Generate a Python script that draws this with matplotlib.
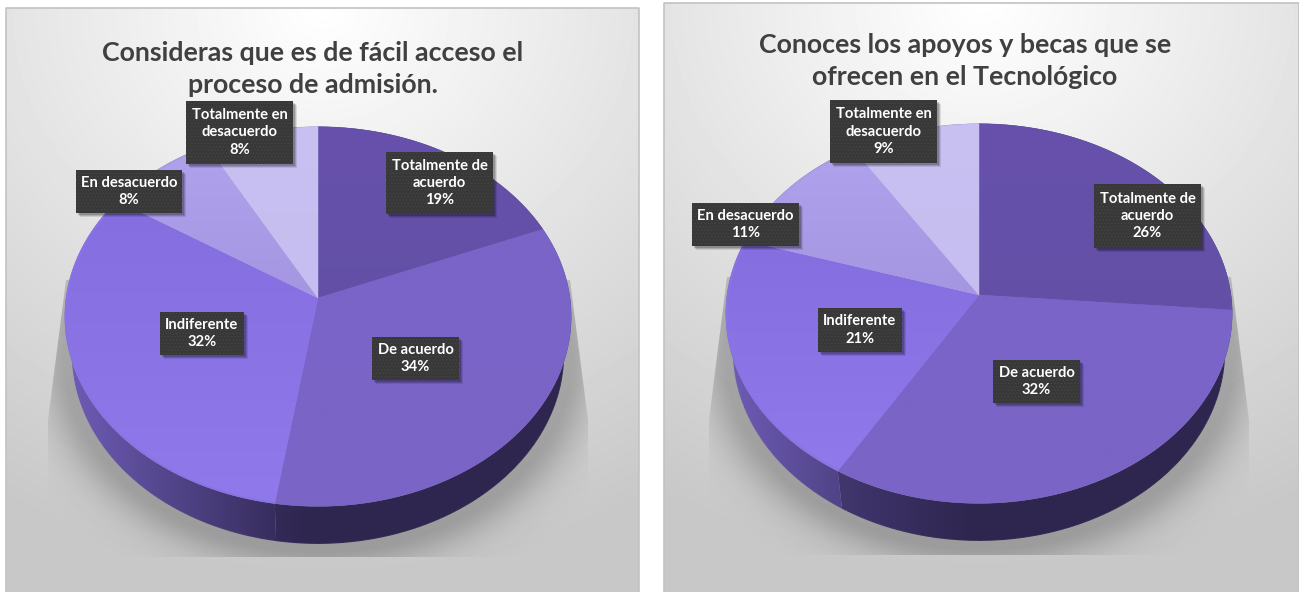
import numpy as np
import matplotlib
matplotlib.use("Agg")
import matplotlib.pyplot as plt
from matplotlib.collections import LineCollection
from matplotlib.colors import to_rgb
from matplotlib.patches import Polygon, Rectangle

plt.rcParams['font.family'] = ['Lato', 'DejaVu Sans']
plt.rcParams['hatch.linewidth'] = 0.5

categories = ["Totalmente de\nacuerdo", "De acuerdo", "Indiferente", "En desacuerdo", "Totalmente en\ndesacuerdo"]
values_admision = [19, 34, 32, 8, 8]
values_becas = [26, 32, 21, 11, 9]
title_admision = "Consideras que es de fácil acceso el\nproceso de admisión."
title_becas = "Conoces los apoyos y becas que se\nofrecen en el Tecnológico"

# colour of each slice at its upper and lower end
slice_upper = ["#6751ac", "#7a64c8", "#846ee0", "#b0a2ec", "#c9c1f2"]
slice_lower = ["#6350a6", "#7a64c6", "#9079ea", "#a596e2", "#c6bdf0"]
wall_light = "#6e5cb6"
wall_dark = "#2f2650"

# layout in pixels
SX, SY, K = 252, 188, 0.0976
DEPTH = 37

boxes_admision = [(386, 152, 493, 214), (372, 337, 459, 380), (160, 312, 244, 355),
                  (76, 170, 182, 213), (186, 101, 293, 164)]
boxes_becas = [(1094, 184, 1201, 248), (993, 360, 1080, 403), (818, 308, 902, 352),
               (692, 203, 799, 246), (830, 100, 937, 163)]


def rim(cx, cy, theta, scale=1.0, drop=0):
    # circle seen in perspective, theta runs clockwise from twelve o'clock
    s, c = np.sin(theta), np.cos(theta)
    w = 1 + K * c
    return cx + scale * SX * s / w, cy - SY * c / w + drop


def mix(a, b, t):
    a, b = np.array(to_rgb(a)), np.array(to_rgb(b))
    return a + (b - a) * np.asarray(t)[..., None]


def wall_color(x, cx, front):
    col = mix(wall_light, wall_dark, np.clip((x - (cx - 250)) / 240, 0, 1))
    if front:
        col = col + (np.array(to_rgb(wall_dark)) - col) * 0.45
    return col


def draw_panel(ax, x0, y0, x1, y1):
    yy, xx = np.mgrid[y0:y1, x0:x1]
    mx = (x0 + x1) / 2
    r = np.sqrt(((xx - mx) / (x1 - x0)) ** 2 + ((yy - y0) / 560) ** 2)
    v = 1 - 0.215 * np.clip(r, 0, 1)
    ax.imshow(v, cmap="gray", vmin=0, vmax=1, extent=(x0, x1, y1, y0), zorder=1, aspect="auto")
    ax.plot([x0, x0, x1, x1], [y1, y0, y0, y1], color="#c2c2c2", lw=1.2, zorder=2)


def draw_shadow(ax, cx, cy, x0, x1, y0, y1):
    yy, xx = np.mgrid[y0:y1, x0:x1]
    rho = np.sqrt(((xx - cx) / SX) ** 2 + ((yy - (cy + 19 + DEPTH)) / (SY + 8)) ** 2)
    d = np.clip(rho - 1, 0, None) * 230
    rgba = np.zeros(xx.shape + (4,))
    rgba[..., 3] = 0.23 * np.exp(-(d / 28) ** 1.6)
    im = ax.imshow(rgba, extent=(x0, x1, y1, y0), zorder=3, aspect="auto")
    outline = Polygon([(cx - 252, cy - 18), (cx + 252, cy - 18), (cx + 270, 420), (cx + 270, y1),
                       (cx - 270, y1), (cx - 270, 420)], transform=ax.transData)
    im.set_clip_path(outline)


def draw_pie(ax, cx, cy, values, boxes):
    edges = np.cumsum([0] + values) / sum(values) * 2 * np.pi
    # side wall: shaded by x and clipped to each slice's outline
    for i in range(len(values)):
        th = np.linspace(edges[i], edges[i + 1], 300)
        tx, ty = rim(cx, cy, th)
        bx, by = rim(cx, cy, th, 0.97, DEPTH)
        if by.max() < ty.min():
            continue
        xs = np.arange(int(min(tx.min(), bx.min())) - 2, int(max(tx.max(), bx.max())) + 3)
        im = ax.imshow(wall_color(xs + 0.5, cx, i < 2)[None, :, :], zorder=4, aspect="auto",
                       extent=(xs[0], xs[-1] + 1, by.max() + 2, min(ty.min(), by.min()) - 2))
        outline = Polygon(list(zip(tx, ty)) + list(zip(bx[::-1], by[::-1])), transform=ax.transData)
        im.set_clip_path(outline)
        # smooth lower edge of the wall
        segs = np.stack([np.c_[bx[:-1], by[:-1]], np.c_[bx[1:], by[1:]]], axis=1)
        ax.add_collection(LineCollection(segs, colors=wall_color(bx[:-1], cx, i < 2), linewidths=0.8, zorder=4))
    # top face
    for i in range(len(values)):
        th = np.linspace(edges[i], edges[i + 1], 200)
        x, y = rim(cx, cy, th)
        mid = mix(slice_upper[i], slice_lower[i], 0.5)
        pts = [(cx, cy)] + list(zip(x, y))
        ax.add_patch(Polygon(pts, fc=mid, ec=mid, lw=0.3, zorder=5))
        ts = np.linspace(0, 1, 64)[:, None]
        shade = mix(slice_upper[i], slice_lower[i], ts[:, 0])[:, None, :]
        im = ax.imshow(shade, extent=(min(x.min(), cx), max(x.max(), cx), max(y.max(), cy), min(y.min(), cy)),
                       zorder=5, aspect="auto", interpolation="bilinear")
        inner = [(cx, cy)] + [(cx + (a - cx) * 0.992, cy + (b - cy) * 0.992) for a, b in zip(x, y)]
        im.set_clip_path(Polygon(inner, transform=ax.transData))
    # data labels
    for cat, val, (x0, y0, x1, y1) in zip(categories, values, boxes):
        for off, a in [(4, 0.1), (3, 0.14), (2, 0.18)]:
            ax.add_patch(Rectangle((x0 + off, y0 + off), x1 - x0, y1 - y0, fc="black", ec="none", alpha=a, zorder=6))
        ax.add_patch(Rectangle((x0, y0), x1 - x0, y1 - y0, fc="#383838", ec="#464646", lw=0, hatch=".....", zorder=7))
        ax.text((x0 + x1) / 2, (y0 + y1) / 2, f"{cat}\n{val}%", color="white", fontsize=10.6, fontweight="bold",
                ha="center", va="center", linespacing=1.3, zorder=8)


fig = plt.figure(figsize=(12.99, 5.92), dpi=100, facecolor="white")
ax = fig.add_axes([0, 0, 1, 1])

draw_panel(ax, 6, 8, 639, 592)
draw_panel(ax, 664, 3, 1299, 592)
draw_shadow(ax, 318, 298, 40, 600, 270, 557)
draw_shadow(ax, 979, 295, 700, 1260, 270, 555)
draw_pie(ax, 318, 298, values_admision, boxes_admision)
draw_pie(ax, 979, 295, values_becas, boxes_becas)

ax.text(313, 69, title_admision, color="#404040", fontsize=19.3, fontweight="bold", ha="center", va="center",
        linespacing=1.4, zorder=8)
ax.text(965, 61, title_becas, color="#404040", fontsize=19.3, fontweight="bold", ha="center", va="center",
        linespacing=1.4, zorder=8)

ax.set_xlim(0, 1299)
ax.set_ylim(592, 0)
ax.axis("off")
fig.savefig("out.png", dpi=100)
